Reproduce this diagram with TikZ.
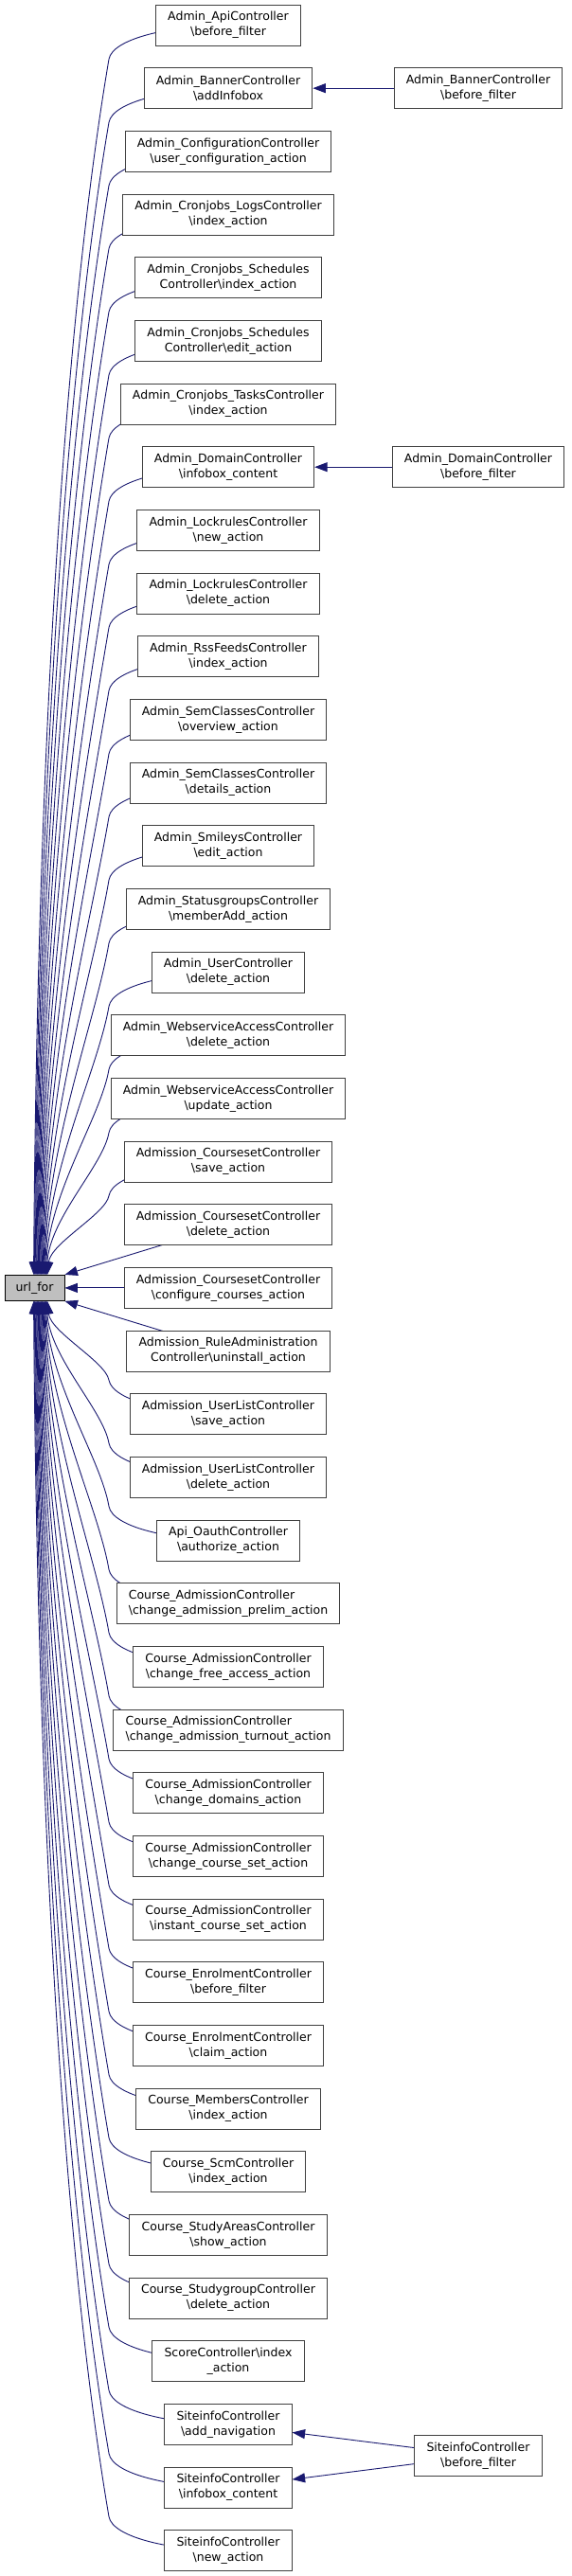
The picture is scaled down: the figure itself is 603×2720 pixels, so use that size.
\documentclass[tikz,border=0pt]{standalone}
\usepackage{fontspec}
\setmainfont{DejaVu Sans}
\usetikzlibrary{arrows.meta,calc}
\pgfdeclarelayer{bg}
\pgfdeclarelayer{edges}
\pgfsetlayers{bg,edges,main}
\definecolor{edgeblue}{HTML}{191970}
\definecolor{nodegrey}{HTML}{BFBFBF}
\newcommand\bs{\textbackslash}
\begin{document}
\begin{tikzpicture}[x=1pt,y=-1pt,
  box/.style={draw=black!75, fill=white, line width=0.9pt, font=\fontsize{12.5}{16}\selectfont, align=center, inner xsep=12.7pt, inner ysep=0pt, minimum height=43pt},
  edge/.style={draw=edgeblue, line width=0.9pt, -{Triangle[length=13.5pt,width=10pt]}}
]
\useasboundingbox (0,0) rectangle (603,2720);
\begin{pgfonlayer}{bg}\fill[white] (0,0) rectangle (603,2720);\end{pgfonlayer}

\node[box] (n0) at (241,26.5+66.67*0) {Admin\_ApiController\\\bs before\_filter};
\node[box] (n1) at (241,26.5+66.67*1) {Admin\_BannerController\\\bs addInfobox};
\node[box] (n2) at (241,26.5+66.67*2) {Admin\_ConfigurationController\\\bs user\_configuration\_action};
\node[box] (n3) at (241,26.5+66.67*3) {Admin\_Cronjobs\_LogsController\\\bs index\_action};
\node[box] (n4) at (241,26.5+66.67*4) {Admin\_Cronjobs\_Schedules\\Controller\bs index\_action};
\node[box] (n5) at (241,26.5+66.67*5) {Admin\_Cronjobs\_Schedules\\Controller\bs edit\_action};
\node[box] (n6) at (241,26.5+66.67*6) {Admin\_Cronjobs\_TasksController\\\bs index\_action};
\node[box] (n7) at (241,26.5+66.67*7) {Admin\_DomainController\\\bs infobox\_content};
\node[box] (n8) at (241,26.5+66.67*8) {Admin\_LockrulesController\\\bs new\_action};
\node[box] (n9) at (241,26.5+66.67*9) {Admin\_LockrulesController\\\bs delete\_action};
\node[box] (n10) at (241,26.5+66.67*10) {Admin\_RssFeedsController\\\bs index\_action};
\node[box] (n11) at (241,26.5+66.67*11) {Admin\_SemClassesController\\\bs overview\_action};
\node[box] (n12) at (241,26.5+66.67*12) {Admin\_SemClassesController\\\bs details\_action};
\node[box] (n13) at (241,26.5+66.67*13) {Admin\_SmileysController\\\bs edit\_action};
\node[box] (n14) at (241,26.5+66.67*14) {Admin\_StatusgroupsController\\\bs memberAdd\_action};
\node[box] (n15) at (241,26.5+66.67*15) {Admin\_UserController\\\bs delete\_action};
\node[box] (n16) at (241,26.5+66.67*16) {Admin\_WebserviceAccessController\\\bs delete\_action};
\node[box] (n17) at (241,26.5+66.67*17) {Admin\_WebserviceAccessController\\\bs update\_action};
\node[box] (n18) at (241,26.5+66.67*18) {Admission\_CoursesetController\\\bs save\_action};
\node[box] (n19) at (241,26.5+66.67*19) {Admission\_CoursesetController\\\bs delete\_action};
\node[box] (n20) at (241,26.5+66.67*20) {Admission\_CoursesetController\\\bs configure\_courses\_action};
\node[box] (n21) at (241,26.5+66.67*21) {Admission\_RuleAdministration\\Controller\bs uninstall\_action};
\node[box] (n22) at (241,26.5+66.67*22) {Admission\_UserListController\\\bs save\_action};
\node[box] (n23) at (241,26.5+66.67*23) {Admission\_UserListController\\\bs delete\_action};
\node[box] (n24) at (241,26.5+66.67*24) {Api\_OauthController\\\bs authorize\_action};
\node[box,align=left] (n25) at (241,26.5+66.67*25) {Course\_AdmissionController\\\bs change\_admission\_prelim\_action};
\node[box] (n26) at (241,26.5+66.67*26) {Course\_AdmissionController\\\bs change\_free\_access\_action};
\node[box,align=left] (n27) at (241,26.5+66.67*27) {Course\_AdmissionController\\\bs change\_admission\_turnout\_action};
\node[box] (n28) at (241,26.5+66.67*28) {Course\_AdmissionController\\\bs change\_domains\_action};
\node[box] (n29) at (241,26.5+66.67*29) {Course\_AdmissionController\\\bs change\_course\_set\_action};
\node[box] (n30) at (241,26.5+66.67*30) {Course\_AdmissionController\\\bs instant\_course\_set\_action};
\node[box] (n31) at (241,26.5+66.67*31) {Course\_EnrolmentController\\\bs before\_filter};
\node[box] (n32) at (241,26.5+66.67*32) {Course\_EnrolmentController\\\bs claim\_action};
\node[box] (n33) at (241,26.5+66.67*33) {Course\_MembersController\\\bs index\_action};
\node[box] (n34) at (241,26.5+66.67*34) {Course\_ScmController\\\bs index\_action};
\node[box] (n35) at (241,26.5+66.67*35) {Course\_StudyAreasController\\\bs show\_action};
\node[box] (n36) at (241,26.5+66.67*36) {Course\_StudygroupController\\\bs delete\_action};
\node[box] (n37) at (241,26.5+66.67*37) {ScoreController\bs index\\\_action};
\node[box] (n38) at (241,26.5+66.67*38) {SiteinfoController\\\bs add\_navigation};
\node[box] (n39) at (241,26.5+66.67*39) {SiteinfoController\\\bs infobox\_content};
\node[box] (n40) at (241,26.5+66.67*40) {SiteinfoController\\\bs new\_action};

\node[box,fill=nodegrey,draw=black,minimum height=27pt,inner xsep=11.5pt] (u) at (36.5,26.5+66.67*20) {url\_for};

\node[box] (r1) at (505,26.5+66.67*1) {Admin\_BannerController\\\bs before\_filter};
\node[box] (r7) at (505,26.5+66.67*7) {Admin\_DomainController\\\bs before\_filter};
\node[box] (r38) at (505,2593) {SiteinfoController\\\bs before\_filter};

\begin{pgfonlayer}{edges}
\foreach \i in {0,...,18} {
  \pgfmathsetmacro{\yc}{26.5+66.67*\i}
  \pgfmathsetmacro{\yb}{\yc+36}
  \pgfmathsetmacro{\tx}{31+0.8*\i}
  \pgfmathsetmacro{\dd}{1346-\yb}
  \pgfmathsetmacro{\la}{0.23*\dd}
  \pgfmathsetmacro{\lb}{0.4*\dd}
  \draw[edge] (n\i.center) .. controls (180,\yc+0.5) and (119,\yc+14) .. (115,\yb)
     .. controls (115-0.17*\la,\yb+\la) and (39+0.8*\i,1346-\lb) .. ([xshift=\tx pt]u.north west);
}
\foreach \i in {22,...,40} {
  \pgfmathsetmacro{\jj}{40-\i}
  \pgfmathsetmacro{\yc}{26.5+66.67*\i}
  \pgfmathsetmacro{\yb}{\yc-36}
  \pgfmathsetmacro{\tx}{31+0.8*\jj}
  \pgfmathsetmacro{\dd}{\yb-1373}
  \pgfmathsetmacro{\la}{0.23*\dd}
  \pgfmathsetmacro{\lb}{0.4*\dd}
  \draw[edge] (n\i.center) .. controls (180,\yc-0.5) and (119,\yc-14) .. (115,\yb)
     .. controls (115-0.17*\la,\yb-\la) and (39+0.8*\jj,1373+\lb) .. ([xshift=\tx pt]u.south west);
}
\draw[edge] (n19.center) -- (u.north east);
\draw[edge] (n20) -- (u);
\draw[edge] (n21.center) -- (u.south east);
\draw[edge] (r1) -- (n1);
\draw[edge] (r7) -- (n7);
\draw[edge] (r38) -- (n38);
\draw[edge] (r38) -- (n39);
\end{pgfonlayer}
\end{tikzpicture}
\end{document}
